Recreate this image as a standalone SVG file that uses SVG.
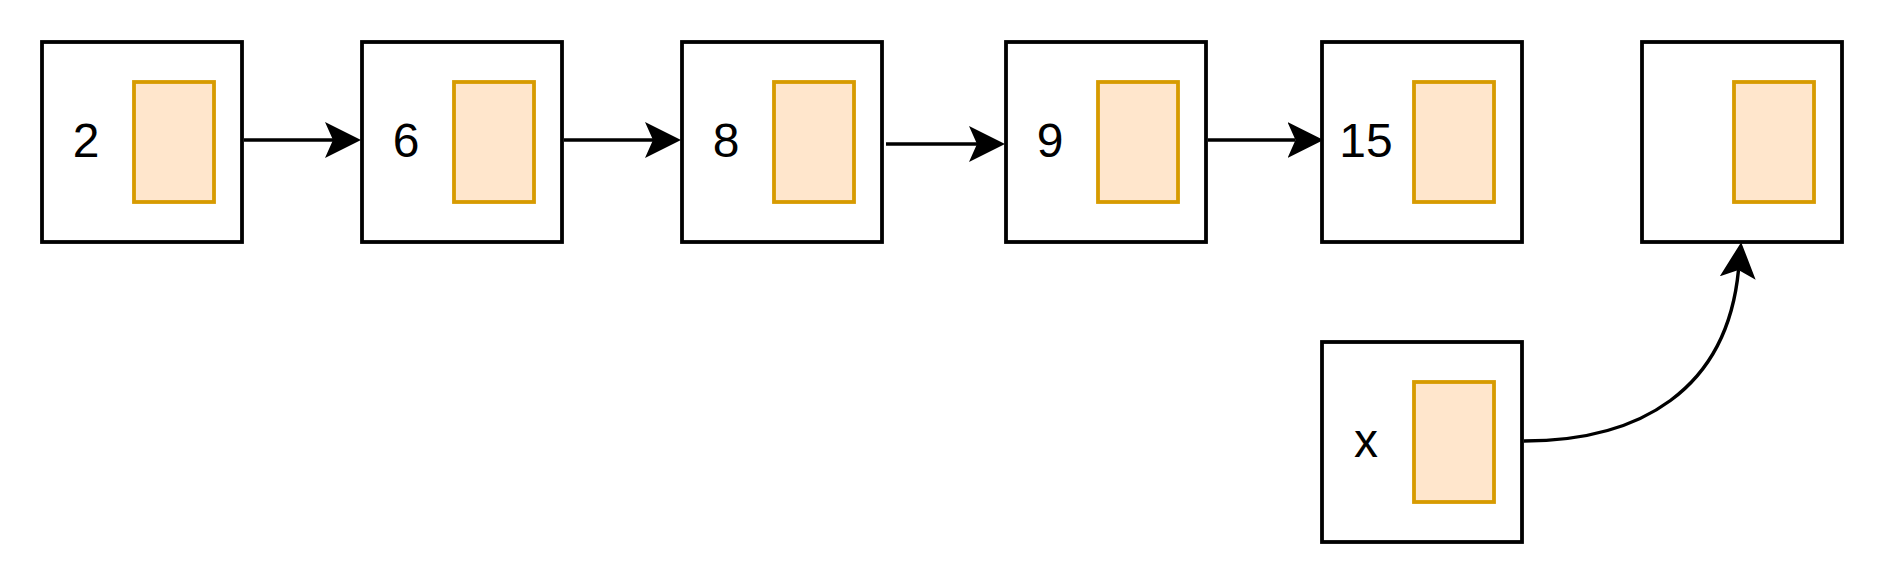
<svg xmlns="http://www.w3.org/2000/svg" width="1884" height="584" viewBox="0 0 1884 584">
<defs>
<style>
.box{fill:#ffffff;stroke:#000000;stroke-width:3.8}
.ptr{fill:#ffe6cc;stroke:#d79b00;stroke-width:3.8}
.lbl{font-family:"Liberation Sans",Arial,Helvetica,sans-serif;font-size:48px;fill:#000000;text-anchor:middle}
.edge{fill:none;stroke:#000000;stroke-width:3.4;marker-end:url(#arrow)}
</style>
<marker id="arrow" markerUnits="userSpaceOnUse" viewBox="0 0 36 36" markerWidth="36" markerHeight="36" refX="8" refY="18" orient="auto">
<path d="M0,0 L36,18 L0,36 L8,18 Z" fill="#000000"/>
</marker>
</defs>
<rect width="1884" height="584" fill="#ffffff"/>
<g id="node-2">
<rect class="box" x="42" y="42" width="200" height="200"/>
<rect class="ptr" x="134" y="82" width="80" height="120"/>
<text class="lbl" x="86" y="156.5">2</text>
</g>
<g id="node-6">
<rect class="box" x="362" y="42" width="200" height="200"/>
<rect class="ptr" x="454" y="82" width="80" height="120"/>
<text class="lbl" x="406" y="156.5">6</text>
</g>
<g id="node-8">
<rect class="box" x="682" y="42" width="200" height="200"/>
<rect class="ptr" x="774" y="82" width="80" height="120"/>
<text class="lbl" x="726" y="156.5">8</text>
</g>
<g id="node-9">
<rect class="box" x="1006" y="42" width="200" height="200"/>
<rect class="ptr" x="1098" y="82" width="80" height="120"/>
<text class="lbl" x="1050" y="156.5">9</text>
</g>
<g id="node-15">
<rect class="box" x="1322" y="42" width="200" height="200"/>
<rect class="ptr" x="1414" y="82" width="80" height="120"/>
<text class="lbl" x="1366" y="156.5">15</text>
</g>
<g id="node-empty">
<rect class="box" x="1642" y="42" width="200" height="200"/>
<rect class="ptr" x="1734" y="82" width="80" height="120"/>
</g>
<g id="node-x">
<rect class="box" x="1322" y="342" width="200" height="200"/>
<rect class="ptr" x="1414" y="382" width="80" height="120"/>
<text class="lbl" x="1366" y="456.5">x</text>
</g>
<g id="connectors">
<path class="edge" d="M244,140 H333"/>
<path class="edge" d="M564,140 H653"/>
<path class="edge" d="M886,144 H977"/>
<path class="edge" d="M1208,140 H1295.5"/>
<path class="edge" d="M1524,441 C1640,441 1727,390 1738.5,270"/>
</g>
</svg>
